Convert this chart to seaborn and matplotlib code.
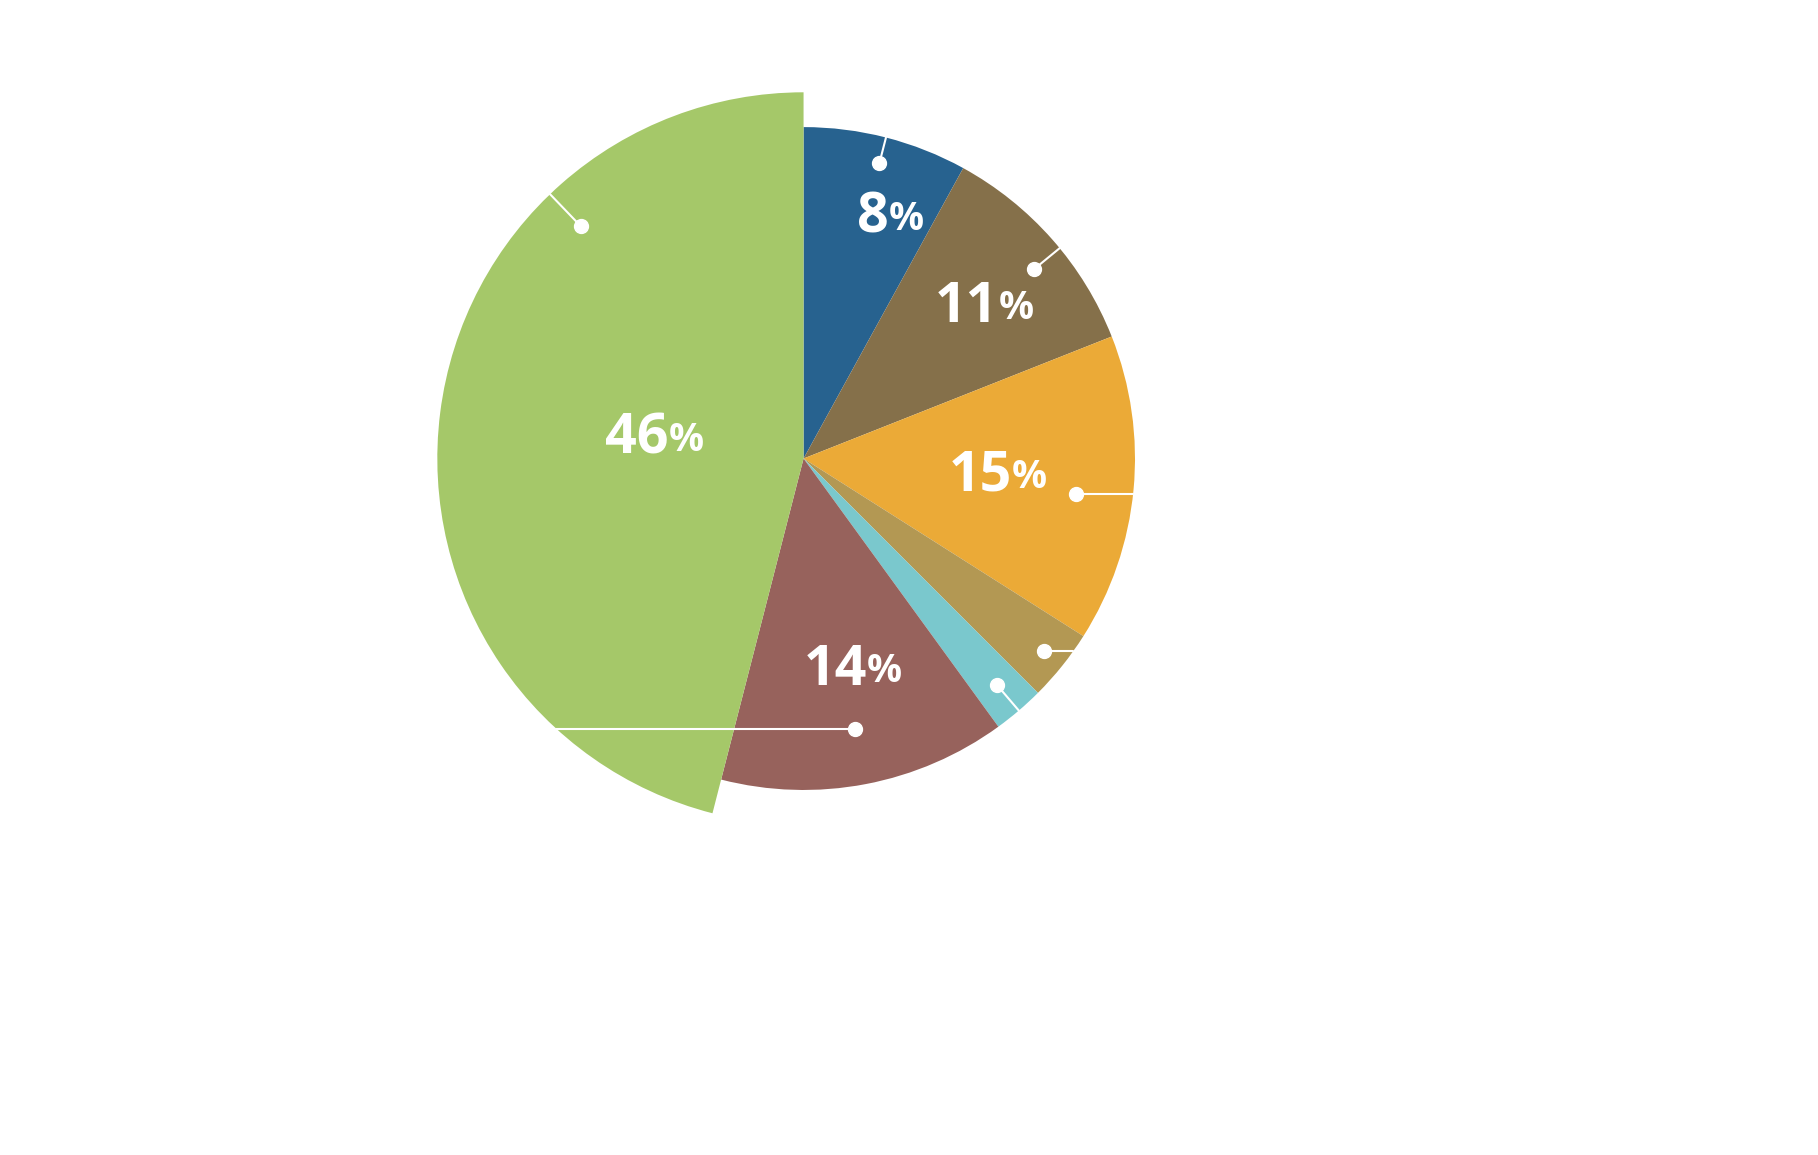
import numpy as np
import matplotlib.pyplot as plt
import seaborn as sns

sns.set_theme(style='white')
plt.rcParams['font.family'] = ['Open Sans', 'DejaVu Sans']

# Slice data, clockwise from the top
shares = [8, 11, 15, 3.5, 2.5, 14, 46]
numbers = ['8', '11', '15', '', '', '14', '46']
colors = ['#27628F', '#85704A', '#EBAA37', '#B39853', '#7AC8CD', '#97625C', '#A5C869']

fig = plt.figure(figsize=(18.18, 11.55), dpi=100)
ax = fig.add_axes([0.232, 0.273, 0.42, 0.66])
wedges, _ = ax.pie(shares, colors=colors, startangle=90, counterclock=False,
                   wedgeprops=dict(linewidth=0))
# the big green slice is drawn with a larger radius
big_r = 1.105
wedges[-1].set_radius(big_r)

# label radius, dot radius, dot shift (degrees, counterclockwise) per slice
label_r = [0.75, 0.69, 0.56, 0, 0, 0.65, 0.48]
dot_r = [0.92, 0.90, 0.83, 0.93, 0.90, 0.83, 0.97]
dot_shift = [0, -2, -2, 0, 0, 0, -39]
horizontal = [False, False, True, True, False, True, False]

total = sum(shares)
start = 90.0
for i, s in enumerate(shares):
    theta1 = start - 360 * s / total
    mid = np.deg2rad((start + theta1) / 2)
    start = theta1
    if numbers[i]:
        lx, ly = label_r[i] * np.cos(mid), label_r[i] * np.sin(mid)
        ax.text(lx + 0.07, ly, numbers[i], color='white', fontsize=40,
                fontweight='bold', ha='right', va='center')
        ax.text(lx + 0.07, ly - 0.005, '%', color='white', fontsize=28,
                fontweight='bold', ha='left', va='center')
    a = mid + np.deg2rad(dot_shift[i])
    dx, dy = dot_r[i] * np.cos(a), dot_r[i] * np.sin(a)
    if i == 5:
        # leader runs left across to the green rim
        ex, ey = -np.sqrt(big_r ** 2 - dy ** 2) * 0.0 - 0.72, dy
        ex = -np.sqrt(max(big_r ** 2 - dy ** 2, 0)) if abs(dy) < big_r else dx
        ex = min(ex, -0.72)
    elif horizontal[i]:
        ex, ey = np.sqrt(1 - dy ** 2), dy
    else:
        edge = big_r if i == len(shares) - 1 else 1.0
        ex, ey = edge * np.cos(a), edge * np.sin(a)
    ax.plot([dx, ex], [dy, ey], color='white', lw=1.5)
    ax.plot(dx, dy, 'o', color='white', ms=10)

ax.set_xlim(-1.15, 1.15)
ax.set_ylim(-1.15, 1.15)
ax.set_aspect('equal')
ax.axis('off')

fig.savefig('out.png', dpi=100)
